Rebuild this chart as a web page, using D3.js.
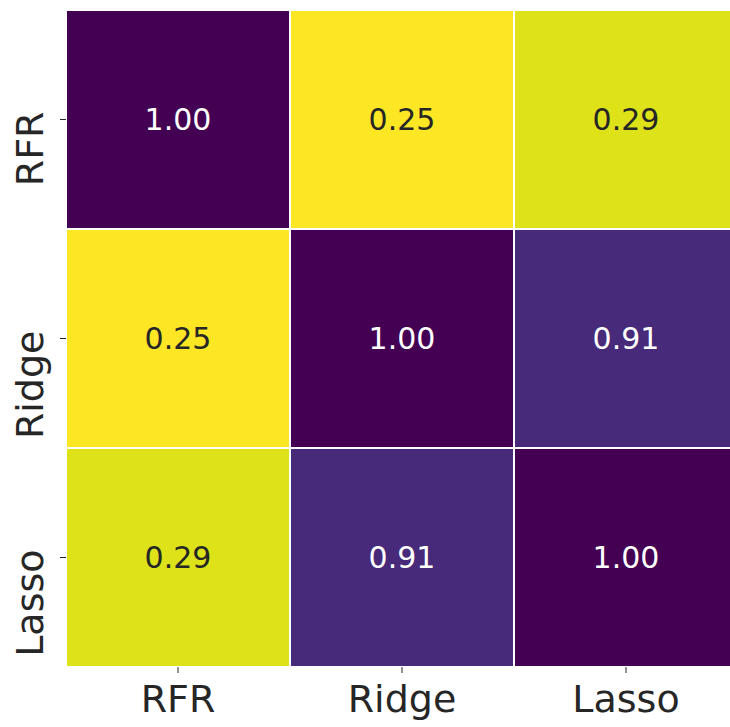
<!DOCTYPE html>
<html>
<head>
<meta charset="utf-8">
<script src="https://cdn.jsdelivr.net/npm/d3@7"></script>
<style>
  html, body { margin: 0; padding: 0; background: #ffffff; }
  svg { display: block; }
  text { font-family: "DejaVu Sans", sans-serif; }
</style>
</head>
<body>
<div id="chart"></div>
<script>
// Correlation of model predictions
const models = ["RFR", "Ridge", "Lasso"];
const rowRFR = [1.00, 0.25, 0.29];
const rowRidge = [0.25, 1.00, 0.91];
const rowLasso = [0.29, 0.91, 1.00];
const matrix = [rowRFR, rowRidge, rowLasso];
const colorMin = 0.25;
const colorMax = 1.00;

const width = 730, height = 727;
const svg = d3.select("#chart").append("svg")
  .attr("width", width).attr("height", height);

const x = d3.scaleBand().domain(models).range([66, 738]).padding(0);
const y = d3.scaleBand().domain(models).range([10, 667]).padding(0);

// reversed viridis: high correlation dark, low correlation bright
const color = d3.scaleSequential(t => d3.interpolateViridis(1 - t))
  .domain([colorMin, colorMax]);

const cells = [];
matrix.forEach((row, i) => row.forEach((v, j) => {
  cells.push({ row: models[i], col: models[j], value: v });
}));

const g = svg.append("g");
g.selectAll("rect").data(cells).join("rect")
  .attr("x", d => x(d.col))
  .attr("y", d => y(d.row))
  .attr("width", x.bandwidth())
  .attr("height", y.bandwidth())
  .attr("fill", d => color(d.value))
  .attr("stroke", "#ffffff")
  .attr("stroke-width", 2);

g.selectAll("text.annot").data(cells).join("text")
  .attr("class", "annot")
  .attr("x", d => x(d.col) + x.bandwidth() / 2)
  .attr("y", d => y(d.row) + y.bandwidth() / 2)
  .attr("text-anchor", "middle")
  .attr("dominant-baseline", "central")
  .attr("font-size", 30)
  .attr("fill", d => {
    const c = d3.hsl(color(d.value));
    return c.l < 0.45 ? "#ffffff" : "#262626";
  })
  .text(d => d3.format(".2f")(d.value));

// bottom axis
const xAxis = svg.append("g")
  .attr("transform", `translate(0,${667})`)
  .call(d3.axisBottom(x).tickSize(6).tickPadding(12));
xAxis.select(".domain").remove();
xAxis.selectAll("line").attr("stroke", "#262626").attr("stroke-width", 1);
xAxis.selectAll("text")
  .attr("font-size", 38)
  .attr("font-family", "DejaVu Sans, sans-serif")
  .attr("fill", "#262626");

// left axis, labels rotated and hanging below each tick
const yAxis = svg.append("g")
  .attr("transform", `translate(${66},0)`)
  .call(d3.axisLeft(y).tickSize(6).tickPadding(10));
yAxis.select(".domain").remove();
yAxis.selectAll("line").attr("stroke", "#262626").attr("stroke-width", 1);
yAxis.selectAll("text")
  .attr("font-size", 38)
  .attr("font-family", "DejaVu Sans, sans-serif")
  .attr("fill", "#262626")
  .attr("text-anchor", "end")
  .attr("dy", 0)
  .attr("x", 0)
  .attr("transform", "translate(-23,-8) rotate(-90)");
</script>
</body>
</html>
